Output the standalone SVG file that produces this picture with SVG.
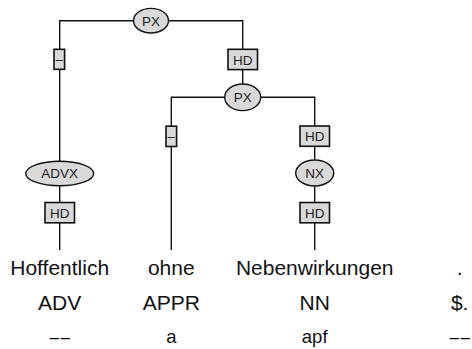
<svg xmlns="http://www.w3.org/2000/svg" width="472" height="349" viewBox="0 0 472 349">
<style>
.edge{fill:none;stroke:#111;stroke-width:1.4}
.nd{fill:#d9d9d9;stroke:#111;stroke-width:1.4}
.lb{fill:#d9d9d9;stroke:#111;stroke-width:1.6}
.nt{font-family:"Liberation Sans",Arial,sans-serif;font-size:13.5px;fill:#222;text-anchor:middle}
.w{font-family:"Liberation Sans",Arial,sans-serif;font-size:21px;fill:#111;text-anchor:middle}
.m{font-family:"Liberation Sans",Arial,sans-serif;font-size:18.5px;fill:#111;text-anchor:middle}
.d{font-family:"Liberation Sans",Arial,sans-serif;font-size:17px;fill:#111;text-anchor:middle;letter-spacing:1.7px}
</style>
<rect width="472" height="349" fill="#fff"/>
<g id="connectors">
<path class="edge" d="M151 20.7 H59.7 V173.3"/>
<path class="edge" d="M151 20.7 H242.7 V97.3"/>
<path class="edge" d="M59.7 173.3 V250"/>
<path class="edge" d="M242.7 97.3 H171.3 V250"/>
<path class="edge" d="M242.7 97.3 H314.7 V172.7"/>
<path class="edge" d="M314.7 172.7 V250"/>
</g>
<g id="label-px1-advx"><rect class="lb" x="54" y="49.3" width="10.6" height="20"/><text class="nt" x="59.3" y="64">–</text></g>
<g id="label-px1-px2"><rect class="lb" x="228" y="49.3" width="29.5" height="20.3"/><text class="nt" x="242.7" y="64.5">HD</text></g>
<g id="label-px2-ohne"><rect class="lb" x="166" y="126.2" width="10.6" height="20.3"/><text class="nt" x="171.3" y="141.2">–</text></g>
<g id="label-px2-nx"><rect class="lb" x="300" y="126" width="29.5" height="20.3"/><text class="nt" x="314.7" y="141.2">HD</text></g>
<g id="label-advx-word"><rect class="lb" x="45" y="202.5" width="29.5" height="20.3"/><text class="nt" x="59.7" y="217.5">HD</text></g>
<g id="label-nx-word"><rect class="lb" x="300" y="202.5" width="29.5" height="20.3"/><text class="nt" x="314.7" y="217.5">HD</text></g>
<g id="node-px1"><ellipse class="nd" cx="151" cy="20.7" rx="17.5" ry="12.3"/><text class="nt" x="151" y="25.6">PX</text></g>
<g id="node-px2"><ellipse class="nd" cx="242.7" cy="97.3" rx="18" ry="13.3"/><text class="nt" x="242.7" y="102.2">PX</text></g>
<g id="node-advx"><ellipse class="nd" cx="59.7" cy="173.5" rx="34" ry="12.3"/><text class="nt" x="59.7" y="178.4">ADVX</text></g>
<g id="node-nx"><ellipse class="nd" cx="314.7" cy="173" rx="19" ry="13"/><text class="nt" x="314.7" y="177.9">NX</text></g>
<g id="tok-1"><text class="w" x="59.7" y="275">Hoffentlich</text><text class="w" x="59.7" y="309.5">ADV</text><text class="d" x="60.6" y="342.7">––</text></g>
<g id="tok-2"><text class="w" x="171.3" y="275">ohne</text><text class="w" x="171.3" y="309.5">APPR</text><text class="m" x="171.3" y="342.7">a</text></g>
<g id="tok-3"><text class="w" x="314.7" y="275">Nebenwirkungen</text><text class="w" x="314.7" y="309.5">NN</text><text class="m" x="314.7" y="342.7">apf</text></g>
<g id="tok-4"><text class="w" x="459.7" y="275">.</text><text class="w" x="459.7" y="309.5">$.</text><text class="d" x="460.6" y="342.7">––</text></g>
</svg>
